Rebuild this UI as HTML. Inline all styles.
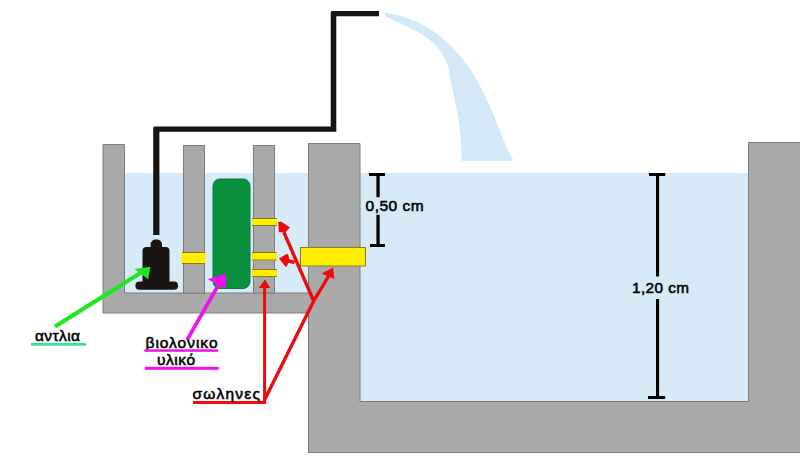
<!DOCTYPE html>
<html>
<head>
<meta charset="utf-8">
<style>
html,body{margin:0;padding:0;background:#fff;width:800px;height:459px;overflow:hidden;}
svg{display:block;}
text{font-family:"Liberation Sans",sans-serif;fill:#000;stroke:#000;stroke-width:0.55px;}
</style>
</head>
<body>
<svg width="800" height="459" viewBox="0 0 800 459">
  <!-- water -->
  <rect x="124" y="173" width="185" height="120" fill="#d6eaf8"/>
  <rect x="359" y="173" width="390" height="229" fill="#d6eaf8"/>
  <!-- water jet -->
  <path d="M384.8,12.5 C478.4,26.7 494.1,129.8 513.8,160.8 L461.3,160.8 C463.3,129.0 453.4,99.7 448.3,66.2 C436.8,38.8 425.0,35.2 385.0,16.3 Z" fill="#d3e9f8"/>
  <!-- grey walls -->
  <g fill="#a9a9a9" stroke="#7c7c7c" stroke-width="1">
    <path d="M103,144.5 H124.5 V293 H308.5 V143.5 H360 V401.5 H748.5 V142.5 H801 V452.5 H308.5 V313 H103 Z"/>
    <rect x="183.5" y="145.5" width="21" height="147.5"/>
    <rect x="253.5" y="145.5" width="21" height="147.5"/>
  </g>
  <!-- yellow pipes -->
  <g fill="#ffee00">
    <rect x="181.5" y="252" width="24" height="12"/>
    <rect x="252" y="218" width="25" height="8"/>
    <rect x="252" y="252" width="24.5" height="8.5"/>
    <rect x="252" y="269" width="25" height="8"/>
  </g>
  <g fill="#8c7c18">
    <rect x="182" y="252" width="23" height="1"/>
    <rect x="182" y="263" width="23" height="1"/>
    <rect x="252" y="218" width="25" height="1"/>
    <rect x="252" y="225" width="25" height="1"/>
    <rect x="252" y="252" width="24.5" height="1"/>
    <rect x="252" y="259.5" width="24.5" height="1"/>
    <rect x="252" y="269" width="25" height="1"/>
    <rect x="252" y="276" width="25" height="1"/>
  </g>
  <rect x="300.5" y="247.5" width="65" height="18.5" fill="#ffee00" stroke="#8c7c18" stroke-width="1"/>
  <!-- green filter -->
  <rect x="213" y="179" width="37" height="109.5" rx="7" ry="7" fill="#0a9140" stroke="#087a36" stroke-width="1"/>
  <!-- pump -->
  <g fill="#1a1512">
    <rect x="150.6" y="239.5" width="11.4" height="12" rx="5" ry="5"/>
    <rect x="142.5" y="247" width="27" height="38" rx="4" ry="4"/>
    <rect x="135.4" y="281.4" width="42.6" height="8.4" rx="4" ry="4"/>
  </g>
  <!-- black pipe -->
  <path d="M153.2,235 V128 Q153.2,126.5 154.7,126.5 H330.7 V12.6 Q330.7,11.1 332.2,11.1 H379 V16.3 H336.3 V131.8 H159.4 V235 Z" fill="#1a1512"/>
  <!-- dimension markers -->
  <g fill="#000">
    <rect x="369" y="173" width="16" height="3"/>
    <rect x="376.4" y="173" width="3.3" height="24.2"/>
    <rect x="376.4" y="214.8" width="3.3" height="31"/>
    <rect x="370" y="244" width="15" height="3"/>
    <rect x="649" y="173" width="16.2" height="3"/>
    <rect x="656" y="173" width="3.1" height="103.5"/>
    <rect x="656" y="299" width="3.1" height="98"/>
    <rect x="648" y="396" width="17.2" height="3"/>
  </g>
  <text x="365.6" y="210.7" font-size="15.5" textLength="58" lengthAdjust="spacing">0,50 cm</text>
  <text x="632" y="293.2" font-size="15.3" textLength="57" lengthAdjust="spacing">1,20 cm</text>
  <!-- green arrow -->
  <line x1="55" y1="326.5" x2="142" y2="272" stroke="#1ee61e" stroke-width="4"/>
  <polygon points="134.5,269 150.4,266.8 148.2,279.3" fill="#1ee61e"/>
  <!-- magenta arrow -->
  <line x1="187" y1="340" x2="219" y2="284" stroke="#ee11ee" stroke-width="3.6"/>
  <polygon points="207.8,279.2 226.2,273.6 225.8,289" fill="#ee11ee"/>
  <!-- red arrows -->
  <g stroke="#ee0a0a" stroke-width="3.4" fill="none" stroke-linejoin="miter">
    <polyline points="193,402.4 264.6,402.4 264.6,285" stroke-width="3"/>
    <polyline points="264,401 313.7,301 330.5,273"/>
    <polyline points="313.7,301 283.8,232"/>
    <polyline points="294.5,262.5 287,260.5"/>
  </g>
  <g fill="#ee0a0a">
    <polygon points="265,279.5 258.8,288 270.2,288"/>
    <polygon points="333.2,267.5 321.5,273.5 334.4,279"/>
    <polygon points="278.3,222.3 281,221.5 290,227.5 285.5,232 278.8,232.2"/>
    <polygon points="279,258.6 286.5,254 288.2,254.5 289.3,260 286.8,266.8 285.3,266.5"/>
  </g>
  <!-- labels -->
  <text x="35" y="341" font-size="15.5" textLength="45" lengthAdjust="spacing">αντλια</text>
  <rect x="31" y="343" width="55" height="2.7" fill="#30e39a"/>
  <text x="145.5" y="347.5" font-size="15.5" textLength="72" lengthAdjust="spacing">βιολονικο</text>
  <rect x="144.3" y="349.3" width="73.7" height="2.5" fill="#ee11ee"/>
  <text x="157" y="365" font-size="15.5" textLength="38" lengthAdjust="spacing">υλικό</text>
  <rect x="144.7" y="366.8" width="74" height="3" fill="#ee11ee"/>
  <text x="192.5" y="398.6" font-size="15.5" textLength="67.5" lengthAdjust="spacing">σωληνες</text>
</svg>
</body>
</html>
